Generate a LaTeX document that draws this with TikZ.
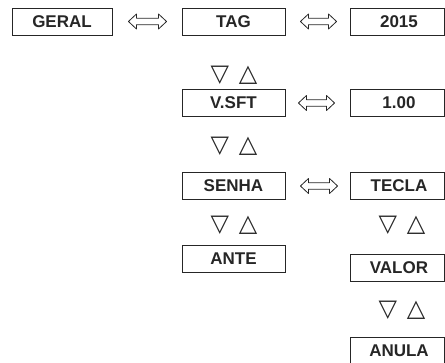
\documentclass[tikz,border=0pt]{standalone}
\usepackage{fontspec}
\setmainfont{Liberation Sans}
\newfontfamily\symf{DejaVu Sans}
\usetikzlibrary{calc}
\begin{document}
\begin{tikzpicture}[x=1pt,y=-1pt,
  box/.style={draw=black!85, line width=0.9pt, minimum height=27pt, inner sep=0pt,
              font=\bfseries\fontsize{17}{17}\selectfont, text=black!85},
  lbox/.style={box, minimum width=103pt},
  rbox/.style={box, minimum width=94pt},
  tri/.style={font=\symf\fontsize{24}{24}\selectfont, inner sep=0pt, text=black!85},
  hollow/.style 2 args={draw=black!85, line width=0.8pt, line join=round, to path={
    ($(\tikztostart.east)+(#1,0)$) coordinate (L)
    ($(\tikztotarget.west)-(#2,0)$) coordinate (R)
    (L) -- ($(L)+(8,-7.5)$) -- ($(L)+(8,-3.2)$) -- ($(R)+(-8,-3.2)$) -- ($(R)+(-8,-7.5)$)
    -- (R) -- ($(R)+(-8,7.5)$) -- ($(R)+(-8,3.2)$) -- ($(L)+(8,3.2)$) -- ($(L)+(8,7.5)$) -- cycle}}
]
\useasboundingbox (0,0) rectangle (445,363);
\node[box, minimum width=100pt] (geral) at (62,21.5) {GERAL};
\node[lbox] (tag) at (233.5,21.5) {TAG};
\node[rbox] (y2015) at (397,21.5) {\hspace{4pt}2015};
\node[lbox] (vsft) at (233.5,103) {V.SFT};
\node[rbox] (v100) at (397,103) {\hspace{4pt}1.00};
\node[lbox] (senha) at (233.5,186) {SENHA};
\node[rbox] (tecla) at (397,186) {\hspace{4pt}TECLA};
\node[lbox] (ante) at (233.5,259) {ANTE};
\node[rbox] (valor) at (397,267.5) {\hspace{4pt}VALOR};
\node[rbox] (anula) at (397,351) {\hspace{4pt}ANULA};
\node[tri] (t1) at (234,75) {▽\hspace{10pt}△};
\node[tri] (t2) at (234,146) {▽\hspace{10pt}△};
\node[tri] (t3) at (234,225) {▽\hspace{10pt}△};
\node[tri] (t4) at (402,225) {▽\hspace{10pt}△};
\node[tri] (t5) at (402,310) {▽\hspace{10pt}△};
\draw[hollow={16}{15}] (geral) to (tag);
\draw[hollow={15}{13}] (tag) to (y2015);
\draw[hollow={13}{15}] (vsft) to (v100);
\draw[hollow={15}{12}] (senha) to (tecla);
\end{tikzpicture}
\end{document}
